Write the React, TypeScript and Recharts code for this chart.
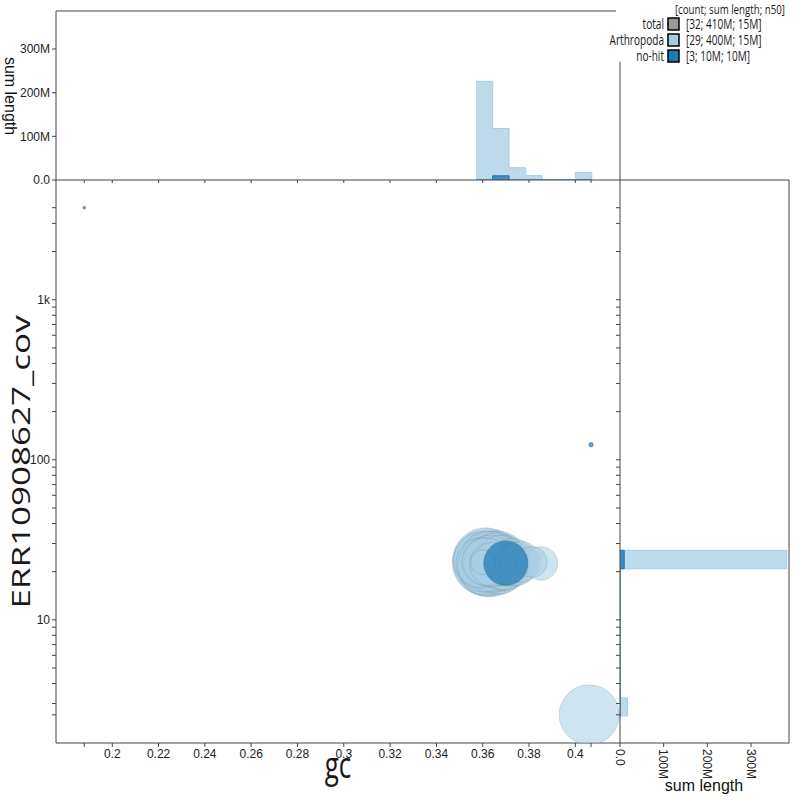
import React from 'react';
import { ScatterChart, Scatter, XAxis, YAxis, ComposedChart, Area } from 'recharts';

const ARTHROPODA = '#a6cee3';
const NO_HIT = '#1f78b4';
const AXIS = '#444';
const TICK_FONT = '"Liberation Sans", Arial, sans-serif';
const TEXT_FONT = '"Open Sans", "Liberation Sans", sans-serif';

// contigs: gc fraction, coverage, length (Mb)
const arthropodaGc = [
  0.362, 0.3612, 0.3628, 0.3605, 0.3635, 0.3618, 0.3598, 0.364, 0.3625, 0.3609, 0.3633, 0.3592, 0.3615, 0.3638, 0.3601,
  0.365, 0.3662, 0.3671, 0.3684, 0.3657, 0.3693, 0.3678, 0.3705,
  0.373, 0.3745, 0.3762,
  0.3852, 0.3812,
  0.406,
];
const arthropodaCov = [
  22.8, 23.4, 22.1, 22.5, 23.0, 21.8, 23.6, 22.4, 24.0, 22.0, 23.3, 22.7, 23.1, 22.2, 22.9,
  22.6, 23.2, 22.0, 22.8, 23.7, 22.3, 23.5, 22.7,
  22.9, 22.4, 23.1,
  22.5, 23.0,
  2.55,
];
const arthropodaLen = [
  22.3, 21, 20, 19, 18, 17, 16, 15.5, 15, 14, 13, 12, 11, 9.2, 3,
  20, 18, 16, 15, 14, 13, 12, 10,
  11, 9, 8,
  5.4, 4.6,
  17.4,
];
const noHitGc = [0.37, 0.1879, 0.4068];
const noHitCov = [22.6, 3760, 124];
const noHitLen = [9.6, 0.05, 0.12];

// gc histogram: bin edges and sum length per bin (Mb), last edge closes the bins
const gcBinEdges = [0.3571, 0.3643, 0.3714, 0.3786, 0.3857, 0.3929, 0.4, 0.4071];
const arthropodaGcSum = [226, 118, 28, 10, 0, 0, 17.4];
const noHitGcSum = [0, 9.6, 0, 0, 0, 0, 0.12];

// coverage histogram: occupied bins only
const covBinLow = [2.49, 20.84];
const covBinHigh = [3.25, 27.2];
const arthropodaCovSum = [17.4, 382];
const noHitCovSum = [0, 9.6];

// axes
const gcTicks = [0.2, 0.22, 0.24, 0.26, 0.28, 0.3, 0.32, 0.34, 0.36, 0.38, 0.4];
const covTicks = [3, 4, 5, 6, 7, 8, 9, 10, 20, 30, 40, 50, 60, 70, 80, 90, 100, 200, 300, 400, 500, 600, 700, 800, 900, 1000, 2000, 3000];
const covLabels: Record<number, string> = { 10: '10', 100: '100', 1000: '1k' };
const sumTicks = [0, 100, 200, 300];
const sumLabels = ['0.0', '100M', '200M', '300M'];

const legendNames = ['total', 'Arthropoda', 'no-hit'];
const legendColors = ['#999999', ARTHROPODA, NO_HIT];
const legendStats = ['[32; 410M; 15M]', '[29; 400M; 15M]', '[3; 10M; 10M]'];

const GC_DOMAIN: [number, number] = [0.1757, 0.4193];
const COV_DOMAIN: [number, number] = [1.7, 5600];
const SUM_DOMAIN: [number, number] = [0, 387];
const BUBBLE_SCALE = 7.2; // px per sqrt(Mb)

const toPoints = (gc: number[], cov: number[], len: number[]) =>
  gc.map((g, i) => ({ gc: g, cov: cov[i], len: len[i] })).sort((a, b) => b.len - a.len);

const arthropodaPoints = toPoints(arthropodaGc, arthropodaCov, arthropodaLen);
const noHitPoints = toPoints(noHitGc, noHitCov, noHitLen);

// step series: one point per bin start, closed with a zero at the last edge
const gcSteps = (sums: number[]) =>
  gcBinEdges.map((gc, i) => ({ gc, sum: i < sums.length ? sums[i] : 0 }));
const covSteps = (sums: number[]) =>
  sums.flatMap((s, i) => [
    { cov: covBinLow[i], sum: s },
    { cov: covBinHigh[i], sum: 0 },
  ]);

const allGc = [...arthropodaGc, ...noHitGc];
const allCov = [...arthropodaCov, ...noHitCov];
// blobtools also marks the data extent on each axis
const gcAxisTicks = [Math.min(...allGc), ...gcTicks, Math.max(...allGc)];
const covAxisTicks = [Math.min(...allCov), ...covTicks, Math.max(...allCov)];

const fmtGc = (v: number) => (gcTicks.includes(v) ? String(v) : '');
const fmtCov = (v: number) => covLabels[v] ?? '';
const fmtSum = (v: number) => {
  const i = sumTicks.indexOf(v);
  return i >= 0 ? sumLabels[i] : '';
};
const blank = () => '';

const tickStyle = { fontSize: 12, fill: '#222', fontFamily: TICK_FONT };

const bubble = (color: string, opacity: number) => (props: any) => {
  const { cx, cy, payload } = props;
  if (cx == null || cy == null) return <g />;
  return (
    <circle
      cx={cx}
      cy={cy}
      r={BUBBLE_SCALE * Math.sqrt(payload.len)}
      fill={color}
      fillOpacity={opacity}
      stroke="#555"
      strokeOpacity={0.22}
      strokeWidth={0.8}
    />
  );
};

const rotatedSumTick = (props: any) => {
  const { x, y, payload } = props;
  return (
    <text x={x} y={y} dy="0.35em" transform={`rotate(90, ${x}, ${y})`} textAnchor="start" {...tickStyle}>
      {fmtSum(payload.value)}
    </text>
  );
};

// the reference sets its titles/legend in a narrow face: squeeze Open Sans horizontally
const Narrow = ({ x, y, size, anchor = 'start', rotate = 0, squeeze = 0.72, children }: any) => (
  <text
    transform={`translate(${x}, ${y}) scale(${squeeze}, 1) rotate(${rotate})`}
    textAnchor={anchor}
    fontSize={size}
    fontFamily={TEXT_FONT}
    fill="#1a1a1a"
  >
    {children}
  </text>
);

const histArea = (color: string, opacity: number) => ({
  fill: color,
  fillOpacity: opacity,
  stroke: color,
  strokeWidth: 1,
  dot: false,
  activeDot: false,
  isAnimationActive: false,
});

const layer: React.CSSProperties = { position: 'absolute', left: 0, top: 0 };

export default function App() {
  return (
    <div style={{ position: 'absolute', left: 0, top: 0, width: 800, height: 800, background: '#fff' }}>
      {/* main blob plot */}
      <div style={layer}>
        <ScatterChart width={800} height={800} margin={{ top: 180, right: 180, bottom: 0, left: 0 }}>
          <XAxis
            type="number"
            dataKey="gc"
            domain={GC_DOMAIN}
            allowDataOverflow
            ticks={gcAxisTicks}
            interval={0}
            tickFormatter={fmtGc}
            tickSize={4}
            height={57}
            stroke={AXIS}
            tick={tickStyle}
          />
          <YAxis
            type="number"
            dataKey="cov"
            scale="log"
            domain={COV_DOMAIN}
            allowDataOverflow
            ticks={covAxisTicks}
            interval={0}
            tickFormatter={fmtCov}
            tickSize={4}
            width={56}
            stroke={AXIS}
            tick={tickStyle}
          />
          <Scatter data={arthropodaPoints} shape={bubble(ARTHROPODA, 0.55)} isAnimationActive={false} />
          <Scatter data={noHitPoints} shape={bubble(NO_HIT, 0.72)} isAnimationActive={false} />
        </ScatterChart>
      </div>

      {/* gc histogram */}
      <div style={layer}>
        <ComposedChart width={800} height={800} margin={{ top: 11, right: 180, bottom: 600, left: 0 }}>
          <XAxis
            type="number"
            dataKey="gc"
            domain={GC_DOMAIN}
            allowDataOverflow
            ticks={gcAxisTicks}
            interval={0}
            tickFormatter={blank}
            tickSize={3}
            height={20}
            stroke={AXIS}
            tick={tickStyle}
          />
          <YAxis
            type="number"
            domain={SUM_DOMAIN}
            allowDataOverflow
            ticks={sumTicks}
            interval={0}
            tickFormatter={fmtSum}
            tickSize={4}
            width={56}
            stroke={AXIS}
            tick={tickStyle}
          />
          <Area data={gcSteps(arthropodaGcSum)} dataKey="sum" type="stepAfter" {...histArea(ARTHROPODA, 0.75)} />
          <Area data={gcSteps(noHitGcSum)} dataKey="sum" type="stepAfter" {...histArea(NO_HIT, 0.8)} />
        </ComposedChart>
      </div>

      {/* coverage histogram */}
      <div style={layer}>
        <ComposedChart
          layout="vertical"
          width={800}
          height={800}
          margin={{ top: 180, right: 11, bottom: 0, left: 610 }}
        >
          <XAxis
            type="number"
            domain={SUM_DOMAIN}
            allowDataOverflow
            ticks={sumTicks}
            interval={0}
            tickSize={4}
            height={57}
            stroke={AXIS}
            tick={rotatedSumTick}
          />
          <YAxis
            type="number"
            dataKey="cov"
            scale="log"
            reversed
            domain={COV_DOMAIN}
            allowDataOverflow
            ticks={covAxisTicks}
            interval={0}
            tickFormatter={blank}
            tickSize={4}
            width={10}
            stroke={AXIS}
            tick={tickStyle}
          />
          <Area data={covSteps(arthropodaCovSum)} dataKey="sum" type="stepBefore" {...histArea(ARTHROPODA, 0.75)} />
          <Area data={covSteps(noHitCovSum)} dataKey="sum" type="stepBefore" {...histArea(NO_HIT, 0.8)} />
        </ComposedChart>
      </div>

      {/* frames, titles, legend */}
      <svg width={800} height={800} style={{ ...layer, pointerEvents: 'none' }}>
        <g stroke={AXIS} strokeWidth={1} fill="none">
          <line x1={56} y1={11} x2={620} y2={11} />
          <line x1={620} y1={11} x2={620} y2={180} />
          <line x1={620} y1={180} x2={789} y2={180} />
          <line x1={789} y1={180} x2={789} y2={743} />
        </g>
        <Narrow x={30} y={462} size={35} anchor="middle" rotate={-90} squeeze={0.75}>
          ERR10908627_cov
        </Narrow>
        <Narrow x={338} y={778} size={36} anchor="middle">
          gc
        </Narrow>
        <text
          x={10}
          y={96}
          transform="rotate(90, 10, 96)"
          textAnchor="middle"
          dominantBaseline="central"
          fontSize={16}
          fontFamily={TICK_FONT}
          fill="#111"
        >
          sum length
        </text>
        <text x={704} y={791} textAnchor="middle" fontSize={16} fontFamily={TICK_FONT} fill="#111">
          sum length
        </text>

        <rect x={616} y={0} width={184} height={62} fill="#fff" />
        <Narrow x={785} y={13.5} size={13.5} anchor="end">
          [count; sum length; n50]
        </Narrow>
        {legendNames.map((name, i) => (
          <g key={name}>
            <Narrow x={664} y={29 + i * 16} size={14} anchor="end">
              {name}
            </Narrow>
            <rect x={668} y={18 + i * 16} width={11} height={12} fill={legendColors[i]} stroke="#000" strokeWidth={1.5} />
            <Narrow x={686} y={29 + i * 16} size={14}>
              {legendStats[i]}
            </Narrow>
          </g>
        ))}
      </svg>
    </div>
  );
}
